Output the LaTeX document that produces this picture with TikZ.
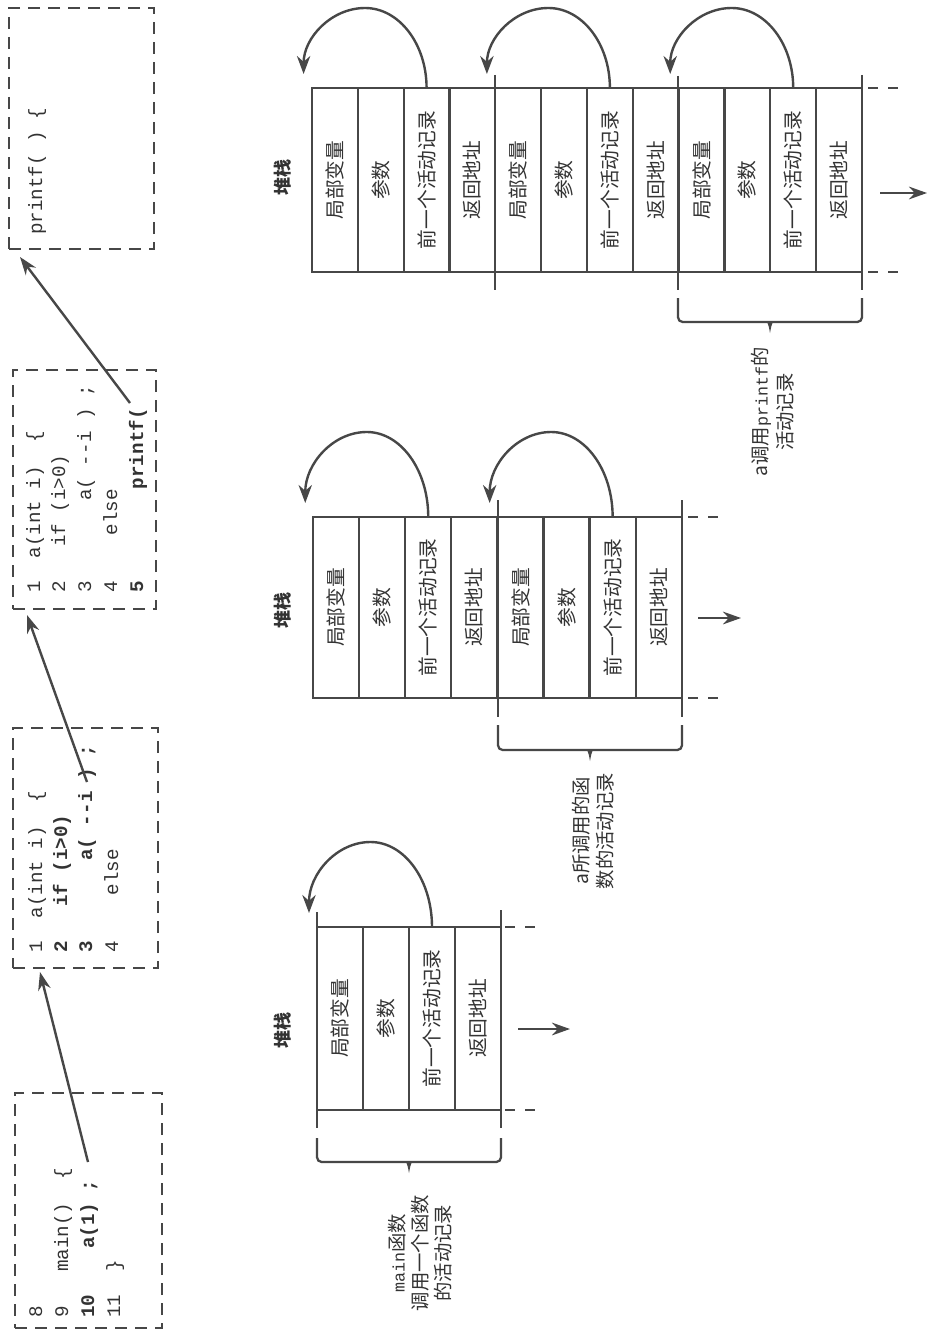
\documentclass[tikz,border=0pt]{standalone}
\usepackage{fontspec}
\newfontfamily\cjk{Noto Sans CJK SC}
\newfontfamily\codefont{Liberation Mono}
\usetikzlibrary{arrows.meta}
\definecolor{ink}{HTML}{474747}
\definecolor{txt}{HTML}{333333}
\begin{document}
\begin{tikzpicture}[x=0.75pt,y=-0.75pt,
  codebox/.style={draw=ink, line width=2pt, dash pattern=on 9pt off 6pt, inner sep=0pt, outer sep=0pt},
  codeline/.style={rotate=90, anchor=base west, inner sep=0pt, text=txt, font=\codefont\fontsize{14.4}{16}\selectfont},
  cell/.style={draw=ink, line width=1.7pt, rotate=90, inner sep=0pt, outer sep=0pt, text=txt, font=\cjk\fontsize{14.8}{16}\selectfont},
  sonedim/.style={minimum width=137.25pt, minimum height=34.5pt},
  stwodim/.style={minimum width=135.75pt, minimum height=34.575pt},
  sthreedim/.style={minimum width=138pt, minimum height=34.37pt},
  stackline/.style={draw=ink, line width=1.7pt},
  stackdash/.style={draw=ink, line width=1.7pt, dash pattern=on 7.5pt off 7.5pt},
  arcline/.style={draw=ink, line width=1.8pt, -{Stealth[length=13.5pt,width=10pt]}},
  codearrow/.style={draw=ink, line width=1.8pt, -{Stealth[length=13.5pt,width=9.5pt]}},
  stacktitle/.style={rotate=90, inner sep=0pt, text=txt, font=\cjk\bfseries\fontsize{13.5}{15}\selectfont},
  notetext/.style={rotate=90, inner sep=0pt, align=center, text=txt}
]
\fill[white] (0,0) rectangle (931,1338);
\useasboundingbox (0,0) rectangle (931,1338);

% ---------- code boxes ----------
\node[codebox, minimum width={147*0.75pt}, minimum height={235*0.75pt}] (mainbox) at (88.5,1210.5) {};
\node[codebox, minimum width={145*0.75pt}, minimum height={240*0.75pt}] (aboxone) at (85.5,848) {};
\node[codebox, minimum width={143*0.75pt}, minimum height={239*0.75pt}] (aboxtwo) at (84.5,489.5) {};
\node[codebox, minimum width={145*0.75pt}, minimum height={241*0.75pt}] (pbox) at (81.5,128.5) {};

% main
\node[codeline] (m8) at (42,1318) {8};
\node[codeline] (m9) at (68,1318) {9~~~main()~~\{};
\node[codeline] (m10) at (94,1318) {\bfseries 10~~~~a(1)~;};
\node[codeline] (m11) at (120,1318) {11~~\}};
% a (first)
\node[codeline] (p1) at (42,953) {1~~a(int~i)~~\{};
\node[codeline] (p2) at (67,953) {\bfseries 2~~~if~(i>0)};
\node[codeline] (p3) at (92,953) {\bfseries 3~~~~~~~a(~-{}-i~)~;};
\node[codeline] (p4) at (118,953) {4~~~~else};
% a (second)
\node[codeline] (q1) at (40,593) {1~~a(int~i)~~\{};
\node[codeline] (q2) at (65,593) {2~~~if~(i>0)};
\node[codeline] (q3) at (91,593) {3~~~~~~~a(~-{}-i~)~;};
\node[codeline] (q4) at (117,593) {4~~~~else};
\node[codeline] (q5) at (143,593) {\bfseries 5~~~~~~~~printf(};
% printf
\node[codeline] (r1) at (42,235) {printf(~)~\{};

% code connectors
\coordinate (cfromone) at (88,1162);
\coordinate (ctoone) at (40,972);
\coordinate (cfromtwo) at (87,782);
\coordinate (ctotwo) at (27,615);
\coordinate (cfromthree) at (130,403);
\coordinate (ctothree) at (20,257);
\draw[codearrow] (cfromone) -- (ctoone);
\draw[codearrow] (cfromtwo) -- (ctotwo);
\draw[codearrow] (cfromthree) -- (ctothree);

% ---------- stack 1 (bottom) ----------
\foreach \c/\t in {0/局部变量,1/参数,2/前一个活动记录,3/返回地址}
  \node[cell, sonedim] (s1-0-\c) at ({317+(\c+0.5)*46},1018.5) {\t};
\draw[stackline] (317,912) -- (317,1128);
\draw[stackline] (501,910) -- (501,1128);
\draw[stackdash] (505,927) -- (535,927);
\draw[stackdash] (505,1110) -- (535,1110);
\coordinate (soneout) at (518,1029);
\coordinate (soneoutend) at (570,1029);
\draw[codearrow] (soneout) -- (soneoutend);
\coordinate (sonetip) at (309,913);
\draw[arcline] (s1-0-2.east) .. controls (432,880) and (404.5,842) .. (370.5,842)
   .. controls (336.5,842) and (309,874) .. (sonetip);
\draw[stackline, rounded corners=3.5pt] (317,1138) -- (317,1162) -- (501,1162) -- (501,1138);
\fill[ink] (402,1161) .. controls (407,1162) .. (409,1173) .. controls (411,1162) .. (416,1161) -- cycle;
\node[stacktitle] (tone) at (283,1030) {堆栈};
\node[notetext, font=\cjk\fontsize{14.5}{17}\selectfont] (none) at (420,1253)
  {{\codefont\fontsize{12.5}{17}\selectfont main}函数\\调用一个函数\\的活动记录};

% ---------- stack 2 (middle) ----------
\foreach \r in {0,1}
  \foreach \c/\t in {0/局部变量,1/参数,2/前一个活动记录,3/返回地址}
    \node[cell, stwodim] (s2-\r-\c) at ({313+(4*\r+\c+0.5)*46.1},607.5) {\t};
\draw[stackline] (498,500) -- (498,717);
\draw[stackline] (682,500) -- (682,717);
\draw[stackdash] (688,517) -- (718,517);
\draw[stackdash] (688,698) -- (718,698);
\coordinate (stwoout) at (698,618);
\coordinate (stwooutend) at (741,618);
\draw[codearrow] (stwoout) -- (stwooutend);
\coordinate (stwotipa) at (305.25,503);
\coordinate (stwotipb) at (489.65,503);
\draw[arcline] (s2-0-2.east) .. controls (428.25,470) and (400.75,432) .. (366.75,432)
   .. controls (332.75,432) and (305.25,464) .. (stwotipa);
\draw[arcline] (s2-1-2.east) .. controls (612.65,470) and (585.15,432) .. (551.15,432)
   .. controls (517.15,432) and (489.65,464) .. (stwotipb);
\draw[stackline, rounded corners=3.5pt] (498,725) -- (498,750) -- (682,750) -- (682,725);
\fill[ink] (583,749) .. controls (588,750) .. (590,761) .. controls (592,750) .. (597,749) -- cycle;
\node[stacktitle] (ttwo) at (283,610) {堆栈};
\node[notetext, font=\cjk\fontsize{14.5}{18.5}\selectfont] (ntwo) at (593,831)
  {a所调用的函\\数的活动记录};

% ---------- stack 3 (top) ----------
\foreach \r in {0,1,2}
  \foreach \c/\t in {0/局部变量,1/参数,2/前一个活动记录,3/返回地址}
    \node[cell, sthreedim] (s3-\r-\c) at ({312+(4*\r+\c+0.5)*45.83},180) {\t};
\draw[stackline] (495,75) -- (495,290);
\draw[stackline] (678,76) -- (678,290);
\draw[stackline] (862,75) -- (862,290);
\draw[stackdash] (868,88) -- (898,88);
\draw[stackdash] (868,272) -- (898,272);
\coordinate (sthreeout) at (880,193);
\coordinate (sthreeoutend) at (927,193);
\draw[codearrow] (sthreeout) -- (sthreeoutend);
\coordinate (sthreetipa) at (303.6,74);
\coordinate (sthreetipb) at (486.9,74);
\coordinate (sthreetipc) at (670.2,74);
\draw[arcline] (s3-0-2.east) .. controls (426.6,44) and (399.1,8) .. (365.1,8)
   .. controls (331.1,8) and (303.6,38) .. (sthreetipa);
\draw[arcline] (s3-1-2.east) .. controls (609.9,44) and (582.4,8) .. (548.4,8)
   .. controls (514.4,8) and (486.9,38) .. (sthreetipb);
\draw[arcline] (s3-2-2.east) .. controls (793.2,44) and (765.7,8) .. (731.7,8)
   .. controls (697.7,8) and (670.2,38) .. (sthreetipc);
\draw[stackline, rounded corners=3.5pt] (678,298) -- (678,322) -- (862,322) -- (862,298);
\fill[ink] (763,321) .. controls (768,322) .. (770,333) .. controls (772,322) .. (777,321) -- cycle;
\node[stacktitle] (tthree) at (283,177) {堆栈};
\node[notetext, font=\cjk\fontsize{14.5}{18.5}\selectfont] (nthree) at (772.5,412)
  {a调用{\codefont\fontsize{12.5}{17}\selectfont printf}的\\活动记录};
\end{tikzpicture}
\end{document}
